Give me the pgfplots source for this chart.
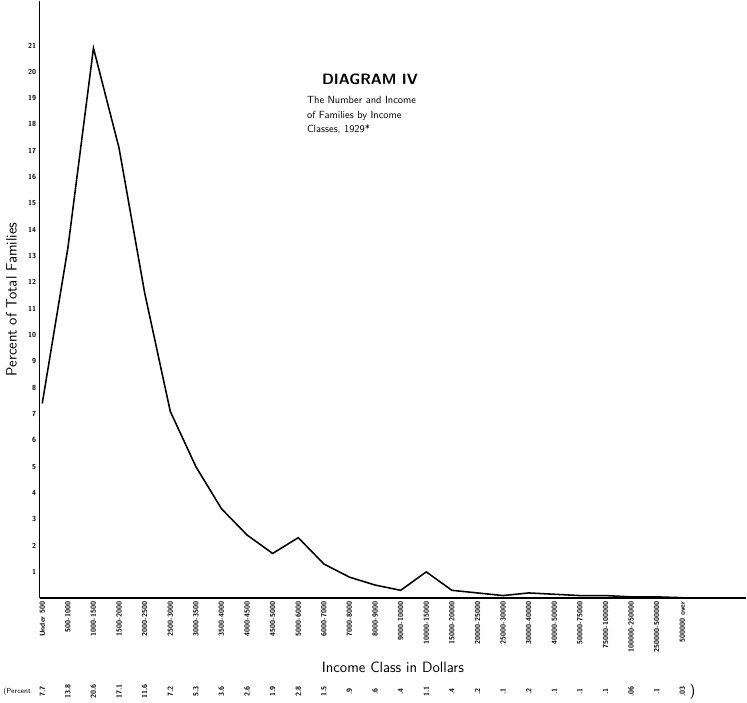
\documentclass[border=0pt]{standalone}
\usepackage{pgfplots}
\pgfplotsset{compat=1.18}
\begin{document}
\begin{tikzpicture}
\begin{axis}[
  scale only axis, width=680pt, height=575pt,
  xmin=-0.1, xmax=27.5, ymin=0, ymax=22.7,
  axis x line=bottom, axis y line=left,
  axis line style={-, line width=1.4pt},
  xtick={0,...,25},
  xticklabels={Under 500,500-1000,1000-1500,1500-2000,2000-2500,2500-3000,3000-3500,3500-4000,4000-4500,4500-5000,5000-6000,6000-7000,7000-8000,8000-9000,9000-10000,10000-15000,15000-20000,20000-25000,25000-30000,30000-40000,40000-50000,50000-75000,75000-100000,100000-250000,250000-500000,500000 over},
  xticklabel style={rotate=90, anchor=east, font=\scriptsize\sffamily\bfseries},
  ytick={1,...,21},
  yticklabel style={font=\scriptsize\sffamily\bfseries},
  /pgf/number format/assume math mode=true,
  major tick length=0pt,
  xlabel={Income Class in Dollars},
  ylabel={Percent of Total Families},
  xlabel style={font=\Large\sffamily, yshift=-2pt},
  ylabel style={font=\Large\sffamily, yshift=4pt},
  clip=false,
]
\addplot[black, line width=1.5pt] coordinates {
(0,7.4)(1,13.3)(2,20.9)(3,17.1)(4,11.6)(5,7.1)(6,5.0)(7,3.4)(8,2.4)(9,1.7)
(10,2.3)(11,1.3)(12,0.8)(13,0.5)(14,0.3)(15,1.0)(16,0.3)(17,0.2)(18,0.1)(19,0.2)
(20,0.15)(21,0.1)(22,0.1)(23,0.05)(24,0.05)(25,0.02)};
\node[font=\bfseries\sffamily\Large] at (axis cs:12.8,19.7) {DIAGRAM IV};
\node[font=\sffamily, align=left, anchor=north west] at (axis cs:10.2,19.2) {The Number and Income\\[2pt] of Families by Income\\[2pt] Classes, 1929*};
\foreach \i/\p in {0/7.7,1/13.8,2/20.6,3/17.1,4/11.6,5/7.2,6/5.3,7/3.6,8/2.6,9/1.9,10/2.8,11/1.5,12/.9,13/.6,14/.4,15/1.1,16/.4,17/.2,18/.1,19/.2,20/.1,21/.1,22/.1,23/.06,24/.1,25/.03}{
  \edef\tmp{\noexpand\node[rotate=90, font=\noexpand\scriptsize\noexpand\sffamily\noexpand\bfseries] at (axis cs:\i,-3.55) {\p};}\tmp
}
\node[font=\scriptsize\sffamily, anchor=east] at (axis cs:-0.3,-3.55) {(Percent};
\node[font=\Large\sffamily] at (axis cs:25.4,-3.55) {)};
\end{axis}
\end{tikzpicture}
\end{document}
